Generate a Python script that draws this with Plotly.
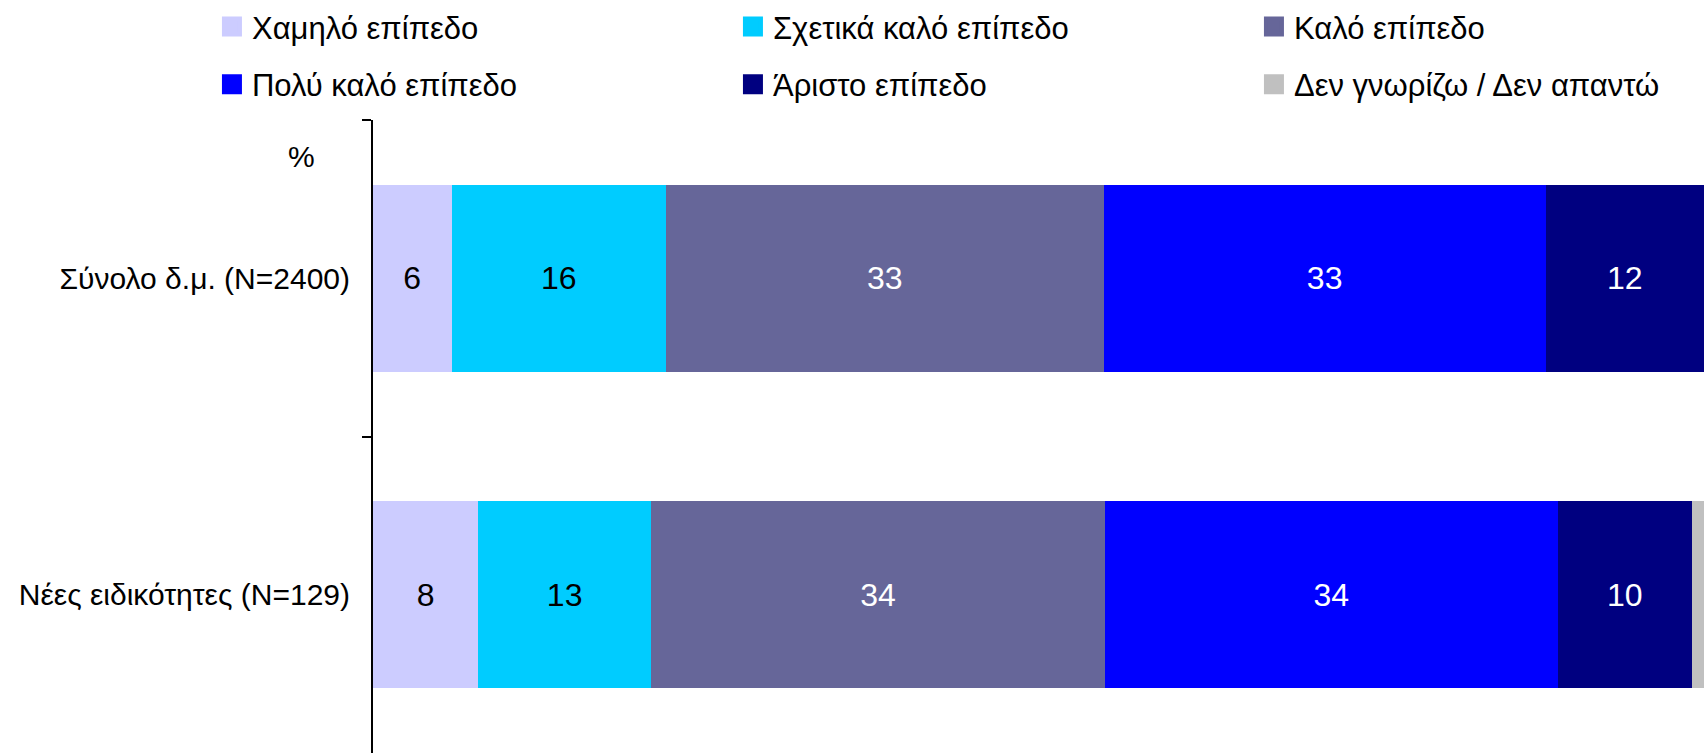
import plotly.graph_objects as go

categories = ["Σύνολο δ.μ. (N=2400)", "Νέες ειδικότητες (N=129)"]
series_names = ["Χαμηλό επίπεδο", "Σχετικά καλό επίπεδο", "Καλό επίπεδο",
                "Πολύ καλό επίπεδο", "Άριστο επίπεδο", "Δεν γνωρίζω / Δεν απαντώ"]
chamilo = [5.9, 7.9]
schetika_kalo = [16.1, 13.0]
kalo = [32.9, 34.1]
poly_kalo = [33.2, 34.0]
aristo = [11.9, 10.1]
den_gnorizo = [0.0, 0.9]

series_values = [chamilo, schetika_kalo, kalo, poly_kalo, aristo, den_gnorizo]
colors = ["#CCCCFF", "#00CCFF", "#666699", "#0000FF", "#000080", "#C0C0C0"]
text_colors = ["black", "black", "white", "white", "white", "black"]
show_text = [True, True, True, True, True, False]

FONT = "Liberation Sans, Arial, sans-serif"

fig = go.Figure()
for i, (name, vals) in enumerate(zip(series_names, series_values)):
    fig.add_trace(go.Bar(
        x=vals, y=categories, orientation="h", name=name,
        marker=dict(color=colors[i], line=dict(width=0)),
        texttemplate="%{x:.0f}" if show_text[i] else None,
        textposition="inside" if show_text[i] else "none",
        insidetextanchor="middle", textangle=0,
        textfont=dict(family=FONT, size=32, color=text_colors[i]),
        showlegend=False, hoverinfo="skip",
    ))

# legend entries (two rows -> two legends)
for i, name in enumerate(series_names):
    fig.add_trace(go.Scatter(
        x=[None], y=[None], mode="markers", name=name,
        marker=dict(symbol="square", size=16, color=colors[i],
                    line=dict(color=colors[i], width=4)),
        legend="legend" if i < 3 else "legend2", showlegend=True,
        hoverinfo="skip",
    ))

legend_common = dict(orientation="h", xanchor="left", yanchor="middle",
                     traceorder="normal", itemsizing="trace",
                     font=dict(family=FONT, size=31, color="black"),
                     entrywidth=476, entrywidthmode="pixels",
                     bgcolor="rgba(0,0,0,0)", borderwidth=0,
                     itemclick=False, itemdoubleclick=False)

fig.update_layout(
    width=1704, height=753, autosize=False,
    margin=dict(l=373, r=0, t=120, b=0, pad=0, autoexpand=False),
    paper_bgcolor="white", plot_bgcolor="white",
    barmode="stack", bargap=0.41,
    font=dict(family=FONT, size=30, color="black"),
    legend=dict(x=-0.121, y=1.147, **legend_common),
    legend2=dict(x=-0.121, y=1.056, **legend_common),
    xaxis=dict(range=[0, 100], visible=False, showgrid=False, zeroline=False),
    yaxis=dict(
        categoryorder="array", categoryarray=categories,
        range=[1.5, -0.5], automargin=False,
        showline=True, linecolor="black", linewidth=2,
        ticks="outside", tickson="boundaries", ticklen=9, tickwidth=2, tickcolor="black",
        tickfont=dict(family=FONT, size=30, color="black"),
        ticklabelstandoff=15,
        showgrid=False, zeroline=False,
    ),
    annotations=[dict(text="%", xref="paper", yref="paper",
                      x=(301 - 373) / 1331, y=1 + (120 - 156) / 633,
                      showarrow=False, xanchor="center", yanchor="middle",
                      font=dict(family=FONT, size=30, color="black"))],
)

fig.write_html("out.html", config={"displayModeBar": False},
               post_script="document.body.style.margin='0';document.body.style.overflow='hidden';")
